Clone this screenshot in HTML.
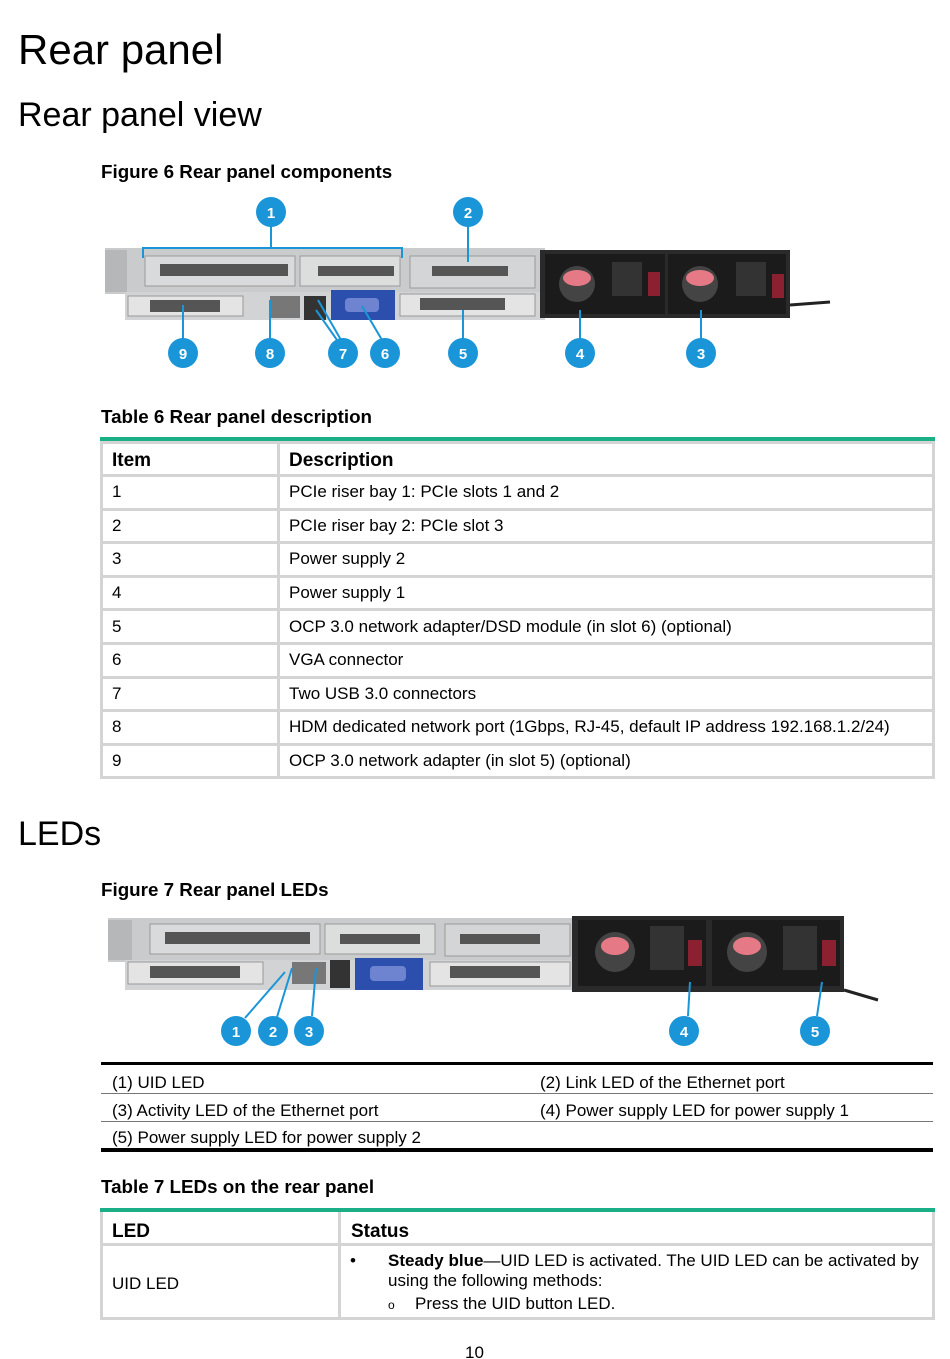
<!DOCTYPE html>
<html><head><meta charset="utf-8"><style>
body{margin:0;background:#fff;font-family:"Liberation Sans",Arial,sans-serif;color:#000}
.p{position:relative;width:950px;height:1359px;overflow:hidden}
.a{position:absolute;white-space:nowrap}
.h1{font-size:42px;left:18px}
.h2{font-size:34px;left:18px}
.cap{font-size:18.8px;font-weight:bold;left:101px}
.t{font-size:17px}
.tb{position:absolute;border-collapse:collapse}
.tb td{border:3px solid #d4d4d4;padding:0 8px 0 9px;font-size:17px;height:30.6px}
.tb tr.h td{font-weight:bold;font-size:19px;padding-top:4px;height:26px}
</style></head><body><div class="p">
<div class="a h1" style="top:26px">Rear panel</div>
<div class="a h2" style="top:96px">Rear panel view</div>
<div class="a cap" style="top:161px">Figure 6 Rear panel components</div>

<svg class="a" style="left:0;top:0" width="950" height="400">
<g>
<rect x="105" y="248" width="440" height="46" fill="#c9cbcc"/>
<rect x="105" y="250" width="22" height="42" fill="#b5b7b8"/>
<rect x="145" y="256" width="150" height="30" fill="#d9dadb" stroke="#9a9a9a"/>
<rect x="160" y="264" width="128" height="12" fill="#555"/>
<rect x="300" y="256" width="100" height="30" fill="#dcdddd" stroke="#9a9a9a"/>
<rect x="318" y="266" width="76" height="10" fill="#555"/>
<rect x="410" y="256" width="125" height="32" fill="#d4d5d6" stroke="#9a9a9a"/>
<rect x="432" y="266" width="76" height="10" fill="#555"/>
<rect x="125" y="292" width="420" height="28" fill="#d2d3d4"/>
<rect x="128" y="296" width="115" height="20" fill="#e4e4e4" stroke="#999"/>
<rect x="150" y="300" width="70" height="12" fill="#555"/>
<rect x="270" y="296" width="30" height="22" fill="#777"/>
<rect x="304" y="296" width="22" height="24" fill="#333"/>
<rect x="331" y="290" width="64" height="30" fill="#2c4fae"/>
<rect x="345" y="298" width="34" height="14" rx="4" fill="#6e84d0"/>
<rect x="400" y="294" width="135" height="22" fill="#e4e4e4" stroke="#999"/>
<rect x="420" y="298" width="85" height="12" fill="#555"/>
<rect x="540" y="250" width="250" height="68" fill="#2a2a2a"/>
<rect x="545" y="254" width="120" height="60" fill="#1b1b1b"/>
<rect x="668" y="254" width="118" height="60" fill="#1b1b1b"/>
<circle cx="577" cy="284" r="18" fill="#444"/><ellipse cx="577" cy="278" rx="14" ry="8" fill="#e57a86"/>
<circle cx="700" cy="284" r="18" fill="#444"/><ellipse cx="700" cy="278" rx="14" ry="8" fill="#e57a86"/>
<rect x="612" y="262" width="30" height="34" fill="#333"/>
<rect x="736" y="262" width="30" height="34" fill="#333"/>
<rect x="648" y="272" width="12" height="24" fill="#8a2030"/>
<rect x="772" y="274" width="12" height="24" fill="#8a2030"/>
<path d="M790 305 L830 302" stroke="#222" stroke-width="3"/>
</g>
<g stroke="#1a95d8" stroke-width="2" fill="none">
<path d="M143 258 V248 H402 V258"/><path d="M271 226 V248"/>
<path d="M468 226 V262"/>
<path d="M183 339 V305"/><path d="M270 339 V300"/>
<path d="M337 340 L316 310 M341 340 L318 300"/><path d="M382 340 L362 306"/>
<path d="M463 339 V310"/><path d="M580 339 V310"/><path d="M701 339 V310"/>
</g>
<g fill="#1a95d8">
<circle cx="271" cy="212" r="15"/><circle cx="468" cy="212" r="15"/>
<circle cx="183" cy="353" r="15"/><circle cx="270" cy="353" r="15"/><circle cx="343" cy="353" r="15"/><circle cx="385" cy="353" r="15"/><circle cx="463" cy="353" r="15"/><circle cx="580" cy="353" r="15"/><circle cx="701" cy="353" r="15"/>
</g>
<g fill="#fff" font-family="Liberation Sans" font-weight="bold" font-size="15" text-anchor="middle">
<text x="271" y="218">1</text><text x="468" y="218">2</text>
<text x="183" y="359">9</text><text x="270" y="359">8</text><text x="343" y="359">7</text><text x="385" y="359">6</text><text x="463" y="359">5</text><text x="580" y="359">4</text><text x="701" y="359">3</text>
</g>
</svg>

<div class="a cap" style="top:406px">Table 6 Rear panel description</div>
<div class="a" style="left:100px;top:437px;width:835px;height:4px;background:#1aaf86"></div>
<table class="tb" style="left:100px;top:441px;width:835px">
<tr class="h"><td style="width:157px">Item</td><td>Description</td></tr>
<tr><td>1</td><td>PCIe riser bay 1: PCIe slots 1 and 2</td></tr>
<tr><td>2</td><td>PCIe riser bay 2: PCIe slot 3</td></tr>
<tr><td>3</td><td>Power supply 2</td></tr>
<tr><td>4</td><td>Power supply 1</td></tr>
<tr><td>5</td><td>OCP 3.0 network adapter/DSD module (in slot 6) (optional)</td></tr>
<tr><td>6</td><td>VGA connector</td></tr>
<tr><td>7</td><td>Two USB 3.0 connectors</td></tr>
<tr><td>8</td><td>HDM dedicated network port (1Gbps, RJ-45, default IP address 192.168.1.2/24)</td></tr>
<tr><td>9</td><td>OCP 3.0 network adapter (in slot 5) (optional)</td></tr>
</table>

<div class="a h2" style="top:815px">LEDs</div>
<div class="a cap" style="top:879px">Figure 7 Rear panel LEDs</div>

<svg class="a" style="left:0;top:900px" width="950" height="160">
<g transform="translate(0,-900)">
<rect x="108" y="918" width="470" height="44" fill="#c9cbcc"/>
<rect x="108" y="920" width="24" height="40" fill="#b5b7b8"/>
<rect x="150" y="924" width="170" height="30" fill="#d9dadb" stroke="#9a9a9a"/>
<rect x="165" y="932" width="145" height="12" fill="#555"/>
<rect x="325" y="924" width="110" height="30" fill="#dcdddd" stroke="#9a9a9a"/>
<rect x="340" y="934" width="80" height="10" fill="#555"/>
<rect x="445" y="924" width="125" height="32" fill="#d4d5d6" stroke="#9a9a9a"/>
<rect x="460" y="934" width="80" height="10" fill="#555"/>
<rect x="125" y="960" width="450" height="30" fill="#d2d3d4"/>
<rect x="128" y="962" width="135" height="22" fill="#e4e4e4" stroke="#999"/>
<rect x="150" y="966" width="90" height="12" fill="#555"/>
<rect x="292" y="962" width="34" height="22" fill="#777"/>
<rect x="330" y="960" width="20" height="28" fill="#333"/>
<rect x="355" y="958" width="68" height="32" fill="#2c4fae"/>
<rect x="370" y="966" width="36" height="15" rx="4" fill="#6e84d0"/>
<rect x="430" y="962" width="140" height="24" fill="#e4e4e4" stroke="#999"/>
<rect x="450" y="966" width="90" height="12" fill="#555"/>
<rect x="572" y="916" width="272" height="76" fill="#2a2a2a"/>
<rect x="578" y="920" width="128" height="66" fill="#1b1b1b"/>
<rect x="712" y="920" width="128" height="66" fill="#1b1b1b"/>
<circle cx="615" cy="952" r="20" fill="#444"/><ellipse cx="615" cy="946" rx="14" ry="9" fill="#e57a86"/>
<circle cx="747" cy="952" r="20" fill="#444"/><ellipse cx="747" cy="946" rx="14" ry="9" fill="#e57a86"/>
<rect x="650" y="926" width="34" height="44" fill="#333"/>
<rect x="783" y="926" width="34" height="44" fill="#333"/>
<rect x="688" y="940" width="14" height="26" fill="#8a2030"/>
<rect x="822" y="940" width="14" height="26" fill="#8a2030"/>
<path d="M844 990 L878 1000" stroke="#222" stroke-width="3"/>
</g>
<g transform="translate(0,-900)">
<g stroke="#1a95d8" stroke-width="2" fill="none">
<path d="M245 1018 L285 972"/><path d="M277 1017 L292 968"/><path d="M312 1016 L316 968"/>
<path d="M688 1016 L690 982"/><path d="M817 1016 L822 982"/>
</g>
<g fill="#1a95d8">
<circle cx="236" cy="1031" r="15"/><circle cx="273" cy="1031" r="15"/><circle cx="309" cy="1031" r="15"/><circle cx="684" cy="1031" r="15"/><circle cx="815" cy="1031" r="15"/>
</g>
<g fill="#fff" font-family="Liberation Sans" font-weight="bold" font-size="15" text-anchor="middle">
<text x="236" y="1037">1</text><text x="273" y="1037">2</text><text x="309" y="1037">3</text><text x="684" y="1037">4</text><text x="815" y="1037">5</text>
</g>
</g>
</svg>

<div class="a" style="left:101px;top:1062px;width:832px;height:3px;background:#000"></div>
<div class="a" style="left:101px;top:1093px;width:832px;height:1px;background:#777"></div>
<div class="a" style="left:101px;top:1121px;width:832px;height:1px;background:#777"></div>
<div class="a" style="left:101px;top:1148px;width:832px;height:4px;background:#000"></div>
<div class="a t" style="left:112px;top:1073px">(1) UID LED</div>
<div class="a t" style="left:540px;top:1073px">(2) Link LED of the Ethernet port</div>
<div class="a t" style="left:112px;top:1101px">(3) Activity LED of the Ethernet port</div>
<div class="a t" style="left:540px;top:1101px">(4) Power supply LED for power supply 1</div>
<div class="a t" style="left:112px;top:1128px">(5) Power supply LED for power supply 2</div>

<div class="a cap" style="top:1176px">Table 7 LEDs on the rear panel</div>
<div class="a" style="left:100px;top:1208px;width:835px;height:4px;background:#1aaf86"></div>
<div class="a" style="left:100px;top:1212px;width:835px;height:108px;box-sizing:border-box;border:3px solid #d4d4d4;border-top:none"></div>
<div class="a" style="left:338px;top:1212px;width:3px;height:108px;background:#d4d4d4"></div>
<div class="a" style="left:100px;top:1243px;width:835px;height:3px;background:#d4d4d4"></div>
<div class="a" style="left:112px;top:1221px;font-size:19px;font-weight:bold">LED</div>
<div class="a" style="left:351px;top:1221px;font-size:19px;font-weight:bold">Status</div>
<div class="a t" style="left:112px;top:1274px">UID LED</div>
<div class="a t" style="left:350px;top:1251px">•</div>
<div class="a t" style="left:388px;top:1251px"><b>Steady blue</b>—UID LED is activated. The UID LED can be activated by</div>
<div class="a t" style="left:388px;top:1271px">using the following methods:</div>
<div class="a" style="left:388px;top:1298px;font-size:12px">o</div>
<div class="a t" style="left:415px;top:1294px">Press the UID button LED.</div>
<div class="a t" style="left:465px;top:1343px">10</div>
</div></body></html>
